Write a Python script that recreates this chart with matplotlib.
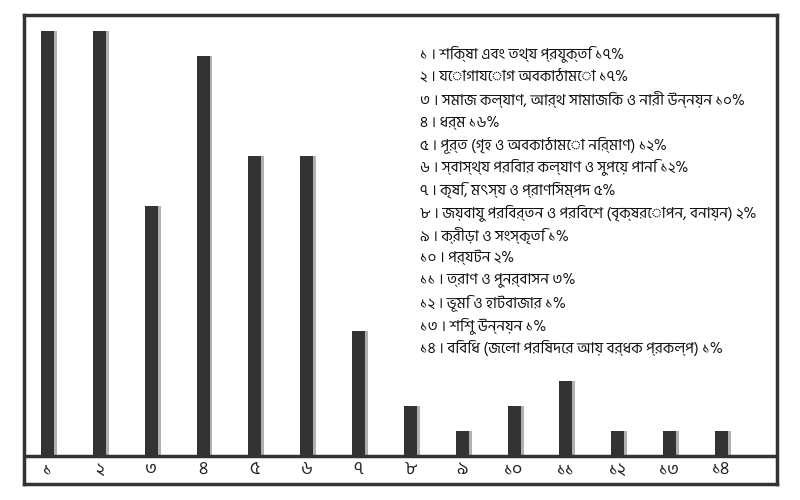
import matplotlib
matplotlib.use("Agg")
import matplotlib.pyplot as plt

# bar labels (Bengali digits) and shares in percent
tick_labels = ["১", "২", "৩", "৪", "৫", "৬", "৭", "৮", "৯", "১০", "১১", "১২", "১৩", "১৪"]
shares = [17, 17, 10, 16, 12, 12, 5, 2, 1, 2, 3, 1, 1, 1]

sectors = [
    "শিক্ষা এবং তথ্য প্রযুক্তি",
    "যোগাযোগ অবকাঠামো",
    "সমাজ কল্যাণ, আর্থ সামাজিক ও নারী উন্নয়ন",
    "ধর্ম",
    "পূর্ত (গৃহ ও অবকাঠামো নির্মাণ)",
    "স্বাস্থ্য পরিবার কল্যাণ ও সুপেয় পানি",
    "কৃষি, মৎস্য ও প্রাণিসম্পদ",
    "জয়বায়ু পরিবর্তন ও পরিবেশ (বৃক্ষরোপন, বনায়ন)",
    "ক্রীড়া ও সংস্কৃতি",
    "পর্যটন",
    "ত্রাণ ও পুনর্বাসন",
    "ভূমি ও হাটবাজার",
    "শিশু উন্নয়ন",
    "বিবিধ (জেলা পরিষদের আয় বর্ধক প্রকল্প)",
]
share_labels = ["১৭", "১৭", "১০", "১৬", "১২", "১২", "৫", "২", "১", "২", "৩", "১", "১", "১"]

# Hind Siliguri has Bengali glyphs; DejaVu as fallback
plt.rcParams["font.family"] = ["Hind Siliguri", "Noto Sans Bengali", "DejaVu Sans"]

fig = plt.figure(figsize=(8, 5), dpi=100)
ax = fig.add_axes([0.03, 0.032, 0.941, 0.938])

x = list(range(1, len(shares) + 1))
px = 1 / 51.85  # one pixel in x data units
ax.bar([v + 3 * px for v in x], shares, width=13 * px, color="#b0b0b0", zorder=2)
ax.bar(x, shares, width=13 * px, color="#333333", zorder=3)

ax.set_xlim(1 - 23.5 * px, 1 - 23.5 * px + 753 * px)
ax.set_ylim(-28 / 25, 441 / 25)
ax.axhline(0, color="#333333", lw=2.5, zorder=4)

for xi, lab in zip(x, tick_labels):
    ax.text(xi, -0.55, lab, ha="center", va="center", fontsize=13, color="#222222")

for i, (s, p) in enumerate(zip(sectors, share_labels)):
    ax.text(0.526, 0.917 - i * 0.0482, f"{tick_labels[i]} । {s} {p}%",
            transform=ax.transAxes, ha="left", va="center", fontsize=11,
            color="#111111")

ax.set_xticks([])
ax.set_yticks([])
for sp in ax.spines.values():
    sp.set_linewidth(2.5)
    sp.set_color("#333333")

fig.savefig("out.png", dpi=100)
